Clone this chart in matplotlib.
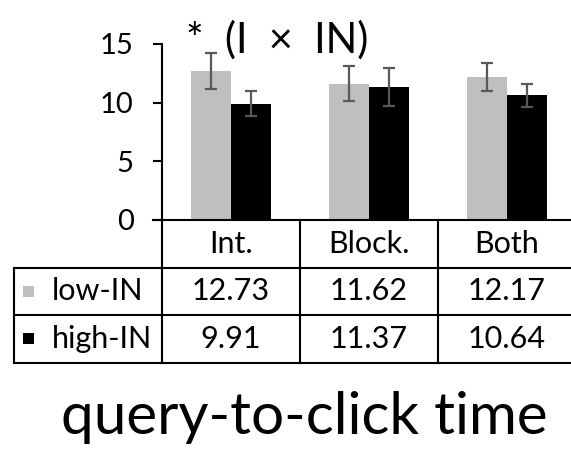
import matplotlib
matplotlib.use("Agg")
import matplotlib.pyplot as plt
from matplotlib.patches import Rectangle
from matplotlib.transforms import blended_transform_factory

plt.rcParams["font.family"] = ["Lato", "DejaVu Sans"]

categories = ["Int.", "Block.", "Both"]
series = ["low-IN", "high-IN"]
low_in = [12.73, 11.62, 12.17]
high_in = [9.91, 11.37, 10.64]
low_err = [1.54, 1.52, 1.18]
high_err = [1.07, 1.62, 0.97]
colors = ["#bfbfbf", "#000000"]
title = "query-to-click time"
note = "*  (I  \u00d7  IN)"

W, H = 571, 449
fig = plt.figure(figsize=(W / 100, H / 100), dpi=100)
ax = fig.add_axes([162 / W, 1 - 220 / H, 413.5 / W, 176 / H])

x = range(len(categories))
width = 0.29
for i, (vals, errs) in enumerate([(low_in, low_err), (high_in, high_err)]):
    pos = [xi + (i - 0.5) * width for xi in x]
    ax.bar(pos, vals, width, color=colors[i], zorder=2)
    ax.errorbar(pos, vals, yerr=errs, fmt="none", ecolor="#595959",
                elinewidth=1.6, capsize=4.5, capthick=1.6, zorder=3)

ax.set_xlim(-0.5, len(categories) - 0.5)
ax.set_ylim(0, 15)
ax.set_yticks([0, 5, 10, 15])
ax.tick_params(axis="y", direction="out", length=6.5, width=1.5, pad=14, labelsize=21)
ax.set_xticks([])
for s in ["top", "right"]:
    ax.spines[s].set_visible(False)
ax.spines["left"].set_linewidth(1.5)
ax.spines["bottom"].set_linewidth(1.5)
ax.spines["bottom"].set_bounds(-0.5 - 9 / 137.8, len(categories) - 0.5)

# data table below the axis
tr = blended_transform_factory(ax.transData, ax.transAxes)
row_h = 0.27
left = -0.5 - 148 / 137.8
n = len(series)
lw = 1.5
for k in range(len(categories) + 1):
    ax.plot([k - 0.5, k - 0.5], [0, -row_h * (n + 1)], color="black", lw=lw,
            transform=tr, clip_on=False)
ax.plot([left, left], [-row_h, -row_h * (n + 1)], color="black", lw=lw,
        transform=tr, clip_on=False)
for r in range(1, n + 2):
    ax.plot([left, len(categories) - 0.5], [-row_h * r, -row_h * r], color="black",
            lw=lw, transform=tr, clip_on=False)

for j, c in enumerate(categories):
    ax.text(j, -row_h * 0.5, c, ha="center", va="center", fontsize=22,
            transform=tr, clip_on=False)
for i, (name, vals) in enumerate(zip(series, [low_in, high_in])):
    yc = -row_h * (i + 1.5)
    ax.add_patch(Rectangle((left + 9 / 137.8, yc - 0.032), 11 / 137.8, 0.064,
                           facecolor=colors[i], edgecolor="none", transform=tr,
                           clip_on=False))
    ax.text(left + 38 / 137.8, yc, name, ha="left", va="center", fontsize=22,
            transform=tr, clip_on=False)
    for j, v in enumerate(vals):
        ax.text(j, yc, f"{v:.2f}", ha="center", va="center", fontsize=22,
                transform=tr, clip_on=False)

fig.text(277 / W, 1 - 53 / H, note, ha="center", va="baseline", fontsize=30)
fig.text(304.5 / W, 1 - 434 / H, title, ha="center", va="baseline", fontsize=42)

fig.savefig("out.png", dpi=100)
